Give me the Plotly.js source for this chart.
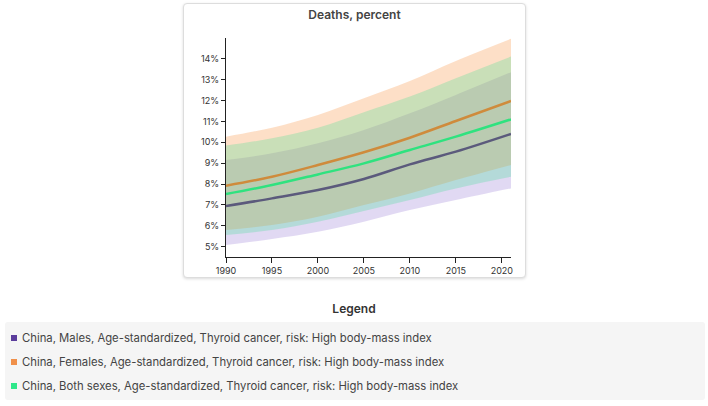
<!DOCTYPE html>
<html>
<head>
<meta charset="utf-8">
<script src="https://cdn.plot.ly/plotly-3.0.1.min.js"></script>
<style>
  body { margin: 0; width: 708px; height: 406px; background: #fff; font-family: Inter, "Noto Sans", sans-serif; position: relative; overflow: hidden; }
  #card { position: absolute; left: 183px; top: 3px; width: 341px; height: 273px; border: 1px solid #ddd; border-radius: 4px; box-shadow: 0 1px 3px rgba(0,0,0,0.15); background: #fff; }
  #chart { width: 341px; height: 273px; }
  #legend-title { position: absolute; left: 0; width: 708px; top: 301px; text-align: center; font-size: 12px; font-weight: 600; color: #333; }
  #legend { position: absolute; left: 5px; top: 322px; width: 700px; height: 78px; background: #f5f5f5; border-radius: 3px; }
  .item { position: absolute; left: 6px; font-size: 11.3px; color: #444; white-space: nowrap; }
  .sw { display: inline-block; width: 6px; height: 6px; margin-right: 5px; vertical-align: 1px; }
</style>
</head>
<body>
<div id="card"><div id="chart"></div></div>
<div id="legend-title">Legend</div>
<div id="legend"></div>
<script>
"use strict"
let years = [1990, 1995, 2000, 2005, 2010, 2015, 2021];

// values in percent
let malesVal = [6.94, 7.31, 7.71, 8.24, 8.94, 9.55, 10.4];
let malesUp = [9.15, 9.47, 9.95, 10.59, 11.39, 12.27, 13.36];
let malesLow = [5.07, 5.36, 5.71, 6.19, 6.75, 7.23, 7.79];

let femalesVal = [7.92, 8.35, 8.91, 9.52, 10.22, 11.02, 11.98];
let femalesUp = [10.27, 10.7, 11.31, 12.11, 12.94, 13.9, 14.96];
let femalesLow = [5.79, 6.03, 6.43, 6.99, 7.55, 8.19, 8.91];

let bothVal = [7.52, 7.95, 8.46, 8.99, 9.63, 10.27, 11.1];
let bothUp = [9.84, 10.19, 10.7, 11.44, 12.19, 13.07, 14.11];
let bothLow = [5.55, 5.79, 6.19, 6.7, 7.23, 7.79, 8.35];

let xTicks = [1990, 1995, 2000, 2005, 2010, 2015, 2020];
let yTicks = [5, 6, 7, 8, 9, 10, 11, 12, 13, 14];
let yTickText = yTicks.map(v => v + '%');

let names = [
    'China, Males, Age-standardized, Thyroid cancer, risk: High body-mass index',
    'China, Females, Age-standardized, Thyroid cancer, risk: High body-mass index',
    'China, Both sexes, Age-standardized, Thyroid cancer, risk: High body-mass index'
];
let lineColors = ['#5b5a7c', '#cf8b3c', '#2fe27f'];
let bandColors = ['rgba(120,80,200,0.22)', 'rgba(247,150,70,0.30)', 'rgba(46,224,140,0.25)'];
let swatchColors = ['#5b3d9c', '#f0904a', '#2ee88a'];

let series = [
    { val: malesVal, up: malesUp, low: malesLow },
    { val: femalesVal, up: femalesUp, low: femalesLow },
    { val: bothVal, up: bothUp, low: bothLow }
];

let data = [];
series.forEach(function (s, i) {
    data.push({ x: years, y: s.low, mode: 'lines', line: { width: 0, shape: 'spline' }, hoverinfo: 'none', showlegend: false });
    data.push({ x: years, y: s.up, mode: 'lines', fill: 'tonexty', fillcolor: bandColors[i], line: { width: 0, shape: 'spline' }, hoverinfo: 'none', showlegend: false });
});
series.forEach(function (s, i) {
    data.push({ x: years, y: s.val, mode: 'lines', name: names[i], line: { color: lineColors[i], width: 2.5, shape: 'spline' }, showlegend: false });
});

let layout = {
    width: 341,
    height: 273,
    margin: { l: 42, r: 14, t: 34, b: 20 },
    paper_bgcolor: 'rgba(0,0,0,0)',
    plot_bgcolor: 'rgba(0,0,0,0)',
    font: { family: 'Inter, "Noto Sans", sans-serif', size: 9, color: '#333' },
    title: { text: 'Deaths, percent', font: { size: 12, color: '#444', weight: 600 }, x: 0.5, y: 0.975, yanchor: 'top' },
    xaxis: {
        range: [1990, 2021], tickmode: 'array', tickvals: xTicks,
        showgrid: false, zeroline: false, showline: true, linecolor: '#222', linewidth: 1,
        ticks: 'outside', ticklen: 5, tickcolor: '#222'
    },
    yaxis: {
        range: [4.5, 15], tickmode: 'array', tickvals: yTicks, ticktext: yTickText,
        showgrid: false, zeroline: false, showline: true, linecolor: '#222', linewidth: 1,
        ticks: 'outside', ticklen: 4, tickcolor: '#222'
    }
};

Plotly.newPlot('chart', data, layout, { displayModeBar: false, staticPlot: true });

let legend = document.getElementById('legend');
names.forEach(function (n, i) {
    legend.insertAdjacentHTML('beforeend',
        `<div class="item" style="top:${9 + i * 24}px"><span class="sw" style="background:${swatchColors[i]}"></span>${n}</div>`);
});
</script>
</body>
</html>
